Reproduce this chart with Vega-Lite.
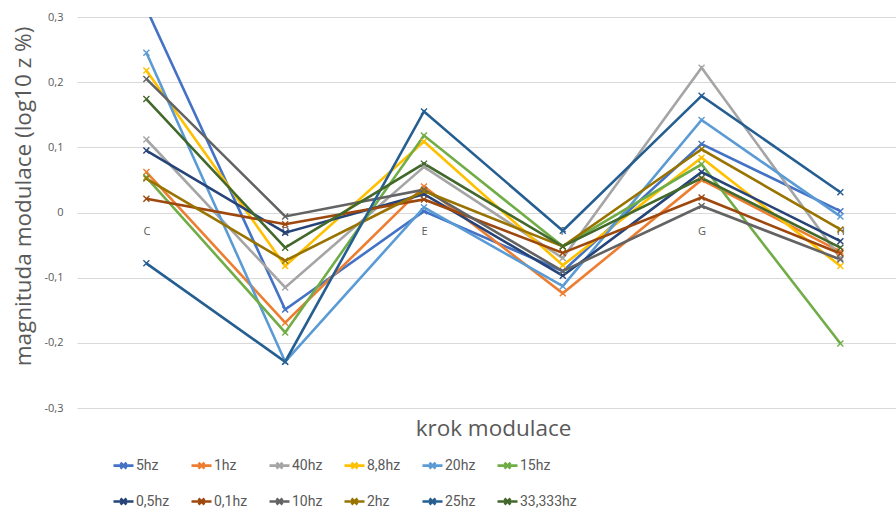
{
  "$schema": "https://vega.github.io/schema/vega-lite/v6.json",
  "width": 819,
  "height": 391,
  "autosize": {"type": "none"},
  "padding": {"left": 77, "top": 17, "right": 0, "bottom": 104},
  "background": "white",
  "config": {"view": {"stroke": null}},
  "data": {"values": [
    {"s": "5hz", "k": "C", "v": 0.313}, {"s": "5hz", "k": "D", "v": -0.149}, {"s": "5hz", "k": "E", "v": 0.002}, {"s": "5hz", "k": "F", "v": -0.09}, {"s": "5hz", "k": "G", "v": 0.105}, {"s": "5hz", "k": "H", "v": 0.002},
    {"s": "1hz", "k": "C", "v": 0.062}, {"s": "1hz", "k": "D", "v": -0.169}, {"s": "1hz", "k": "E", "v": 0.04}, {"s": "1hz", "k": "F", "v": -0.124}, {"s": "1hz", "k": "G", "v": 0.05}, {"s": "1hz", "k": "H", "v": -0.06},
    {"s": "40hz", "k": "C", "v": 0.112}, {"s": "40hz", "k": "D", "v": -0.115}, {"s": "40hz", "k": "E", "v": 0.07}, {"s": "40hz", "k": "F", "v": -0.07}, {"s": "40hz", "k": "G", "v": 0.222}, {"s": "40hz", "k": "H", "v": -0.07},
    {"s": "8,8hz", "k": "C", "v": 0.218}, {"s": "8,8hz", "k": "D", "v": -0.082}, {"s": "8,8hz", "k": "E", "v": 0.109}, {"s": "8,8hz", "k": "F", "v": -0.081}, {"s": "8,8hz", "k": "G", "v": 0.084}, {"s": "8,8hz", "k": "H", "v": -0.082},
    {"s": "20hz", "k": "C", "v": 0.245}, {"s": "20hz", "k": "D", "v": -0.229}, {"s": "20hz", "k": "E", "v": 0.008}, {"s": "20hz", "k": "F", "v": -0.113}, {"s": "20hz", "k": "G", "v": 0.142}, {"s": "20hz", "k": "H", "v": -0.006},
    {"s": "15hz", "k": "C", "v": 0.054}, {"s": "15hz", "k": "D", "v": -0.184}, {"s": "15hz", "k": "E", "v": 0.118}, {"s": "15hz", "k": "F", "v": -0.052}, {"s": "15hz", "k": "G", "v": 0.074}, {"s": "15hz", "k": "H", "v": -0.201},
    {"s": "0,5hz", "k": "C", "v": 0.095}, {"s": "0,5hz", "k": "D", "v": -0.031}, {"s": "0,5hz", "k": "E", "v": 0.028}, {"s": "0,5hz", "k": "F", "v": -0.097}, {"s": "0,5hz", "k": "G", "v": 0.062}, {"s": "0,5hz", "k": "H", "v": -0.044},
    {"s": "0,1hz", "k": "C", "v": 0.021}, {"s": "0,1hz", "k": "D", "v": -0.018}, {"s": "0,1hz", "k": "E", "v": 0.02}, {"s": "0,1hz", "k": "F", "v": -0.062}, {"s": "0,1hz", "k": "G", "v": 0.023}, {"s": "0,1hz", "k": "H", "v": -0.063},
    {"s": "10hz", "k": "C", "v": 0.205}, {"s": "10hz", "k": "D", "v": -0.006}, {"s": "10hz", "k": "E", "v": 0.035}, {"s": "10hz", "k": "F", "v": -0.09}, {"s": "10hz", "k": "G", "v": 0.01}, {"s": "10hz", "k": "H", "v": -0.072},
    {"s": "2hz", "k": "C", "v": 0.052}, {"s": "2hz", "k": "D", "v": -0.074}, {"s": "2hz", "k": "E", "v": 0.033}, {"s": "2hz", "k": "F", "v": -0.052}, {"s": "2hz", "k": "G", "v": 0.097}, {"s": "2hz", "k": "H", "v": -0.026},
    {"s": "25hz", "k": "C", "v": -0.078}, {"s": "25hz", "k": "D", "v": -0.229}, {"s": "25hz", "k": "E", "v": 0.155}, {"s": "25hz", "k": "F", "v": -0.028}, {"s": "25hz", "k": "G", "v": 0.179}, {"s": "25hz", "k": "H", "v": 0.031},
    {"s": "33,333hz", "k": "C", "v": 0.174}, {"s": "33,333hz", "k": "D", "v": -0.054}, {"s": "33,333hz", "k": "E", "v": 0.075}, {"s": "33,333hz", "k": "F", "v": -0.052}, {"s": "33,333hz", "k": "G", "v": 0.053}, {"s": "33,333hz", "k": "H", "v": -0.054}
  ]},
  "mark": {
    "type": "line",
    "clip": true,
    "strokeWidth": 2.6,
    "point": {"shape": "M-1,-1L1,1M-1,1L1,-1", "filled": false, "size": 36, "strokeWidth": 1.4, "clip": true}
  },
  "encoding": {
    "x": {
      "field": "k", "type": "ordinal",
      "scale": {"type": "point", "domain": ["C", "D", "E", "F", "G", "H"], "padding": 0.4503, "align": 0.555},
      "axis": {
        "orient": "bottom", "offset": -195, "zindex": 0,
        "domain": false, "ticks": false, "tickSize": 0, "grid": false,
        "labelAngle": 0, "labelPadding": 12, "labelColor": "#595959", "labelFont": "Open Sans", "labelFontSize": 11,
        "title": "krok modulace", "titleFont": "Open Sans", "titleFontSize": 22.5, "titleFontWeight": "normal", "titleColor": "#595959",
        "titleX": 416, "titleY": 215, "titleBaseline": "middle", "titleAnchor": "middle", "titleAlign": "center"
      }
    },
    "y": {
      "field": "v", "type": "quantitative",
      "scale": {"domain": [-0.3, 0.3], "nice": false, "zero": false},
      "axis": {
        "values": [-0.3, -0.2, -0.1, 0, 0.1, 0.2, 0.3],
        "labelExpr": "replace(replace(format(datum.value, '.1~f'), '.', ','), '\u2212', '-')",
        "domain": false, "ticks": false, "tickSize": 0, "labelPadding": 14,
        "labelColor": "#595959", "labelFont": "Open Sans", "labelFontSize": 11,
        "grid": true, "gridColor": "#d9d9d9", "gridWidth": 1.2,
        "title": "magnituda modulace (log10 z %)", "titleFont": "Open Sans", "titleFontSize": 22.5, "titleFontWeight": "normal", "titleColor": "#595959",
        "titleX": -54, "titleY": 179, "titleBaseline": "middle", "titleAnchor": "middle", "titleAlign": "center"
      }
    },
    "color": {
      "field": "s", "type": "nominal",
      "scale": {
        "domain": ["5hz", "1hz", "40hz", "8,8hz", "20hz", "15hz", "0,5hz", "0,1hz", "10hz", "2hz", "25hz", "33,333hz"],
        "range": ["#4472C4", "#ED7D31", "#A5A5A5", "#FFC000", "#5B9BD5", "#70AD47", "#264478", "#9E480E", "#636363", "#997300", "#255E91", "#43682B"]
      },
      "legend": {
        "orient": "none", "legendX": 35, "legendY": 437, "direction": "horizontal", "columns": 6,
        "gridAlign": "each", "columnPadding": 16, "rowPadding": 16,
        "title": null,
        "symbolType": "M-1,0L1,0M-0.3,-0.3L0.3,0.3M-0.3,0.3L0.3,-0.3",
        "symbolSize": 400, "symbolStrokeWidth": 2.6, "symbolOffset": 0,
        "labelFont": "Roboto", "labelFontSize": 14, "labelColor": "#595959", "labelOffset": 1
      }
    },
    "order": {"field": "k"}
  }
}
